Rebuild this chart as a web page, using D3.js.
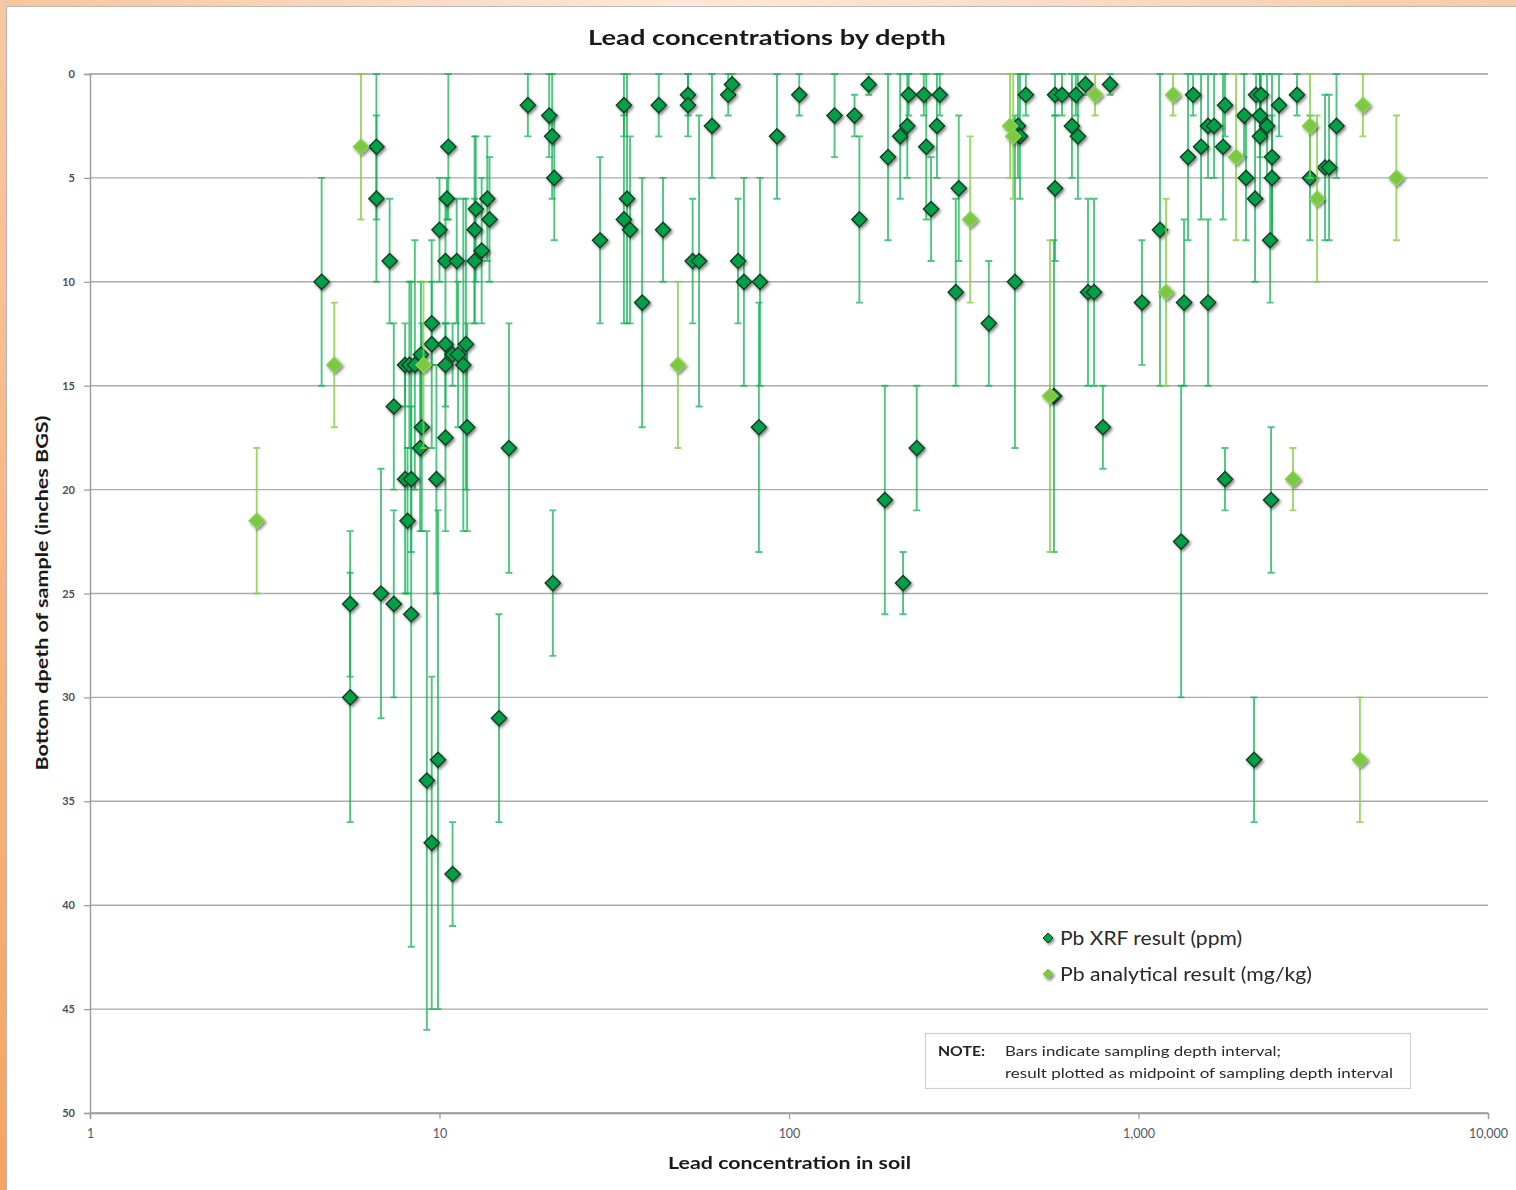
<!DOCTYPE html>
<html>
<head>
<meta charset="utf-8">
<title>Lead concentrations by depth</title>
<script src="https://cdn.jsdelivr.net/npm/d3@7"></script>
<style>
  html, body { margin: 0; padding: 0; background: #fff; }
  svg { display: block; }
  text { font-family: Lato, "Open Sans", "Noto Sans", sans-serif; }
</style>
</head>
<body>
<svg id="chart" width="1516" height="1190"></svg>
<script>
// Each sample: [lead concentration, top of sampling interval (in), bottom of sampling interval (in)]
// The marker is placed at the midpoint of the sampling depth interval.
const xrfSamples = [
  [4.6, 5, 15], [5.55, 22, 29], [5.55, 24, 36], [6.6, 0, 7], [6.6, 2, 10],
  [6.8, 19, 31], [7.2, 6, 12], [7.4, 12, 20], [7.4, 21, 30], [7.97, 12, 16],
  [8.2, 10, 18], [8.5, 8, 20], [8.85, 10, 17], [7.97, 14, 25], [8.3, 16, 23],
  [8.1, 18, 25], [8.3, 10, 42], [8.9, 12, 22], [8.8, 14, 22], [9.2, 22, 46],
  [9.5, 10, 14], [9.5, 8, 18], [9.5, 29, 45], [9.8, 14, 25], [9.9, 21, 45],
  [10.0, 5, 10], [10.4, 6, 12], [10.5, 5, 7], [10.6, 0, 7], [10.4, 12, 14],
  [10.4, 12, 16], [10.4, 13, 22], [10.9, 12, 15], [10.9, 36, 41], [11.2, 6, 12],
  [11.3, 10, 17], [11.7, 6, 22], [11.9, 6, 20], [12.0, 12, 22], [12.6, 3, 12],
  [12.7, 3, 10], [12.6, 6, 12], [13.2, 5, 12], [13.7, 3, 9], [13.9, 4, 10],
  [14.8, 26, 36], [15.8, 12, 24],
  [17.9, 0, 3], [20.6, 0, 4], [21.0, 0, 6], [21.3, 2, 8], [21.1, 21, 28],
  [28.8, 4, 12], [33.7, 0, 3], [33.7, 2, 12], [34.4, 0, 12], [35.1, 3, 12],
  [38.0, 5, 17], [42.4, 0, 3], [43.6, 5, 10], [51.4, 0, 2], [51.4, 0, 3],
  [53.0, 6, 12], [55.3, 2, 16], [60.2, 0, 5], [67, 0, 2], [68.7, 0, 1],
  [71.5, 6, 12], [74.3, 5, 15], [82.6, 5, 15], [82, 11, 23], [92.4, 0, 6],
  [107, 0, 2],
  [135, 0, 4], [154, 1, 3], [159, 3, 11], [169, 0, 1], [188, 15, 26],
  [192, 0, 8], [208, 0, 6], [212, 23, 26], [218, 0, 5], [220, 0, 2],
  [232, 15, 21], [243, 0, 2], [247, 0, 7], [255, 4, 9], [265, 0, 5],
  [270, 0, 2], [300, 6, 15], [306, 2, 9], [373, 9, 15], [443, 2, 18],
  [452, 0, 5], [458, 0, 6], [476, 0, 2], [573, 8, 23], [577, 2, 9],
  [577, 0, 2], [604, 0, 2], [645, 0, 5], [662, 0, 2], [671, 0, 6],
  [705, 0, 1], [717, 6, 15], [746, 6, 15], [791, 15, 19], [829, 0, 1],
  [1023, 8, 14], [1152, 0, 15], [1324, 15, 30], [1350, 7, 15], [1386, 0, 8],
  [1433, 0, 2], [1510, 0, 7], [1581, 0, 5], [1581, 7, 15], [1645, 0, 5],
  [1745, 0, 7], [1768, 0, 3], [1768, 18, 21], [2005, 0, 4], [2030, 2, 8],
  [2155, 2, 10], [2141, 30, 36], [2169, 0, 2], [2241, 0, 2], [2226, 0, 4],
  [2226, 0, 6], [2332, 0, 5], [2410, 0, 8], [2410, 2, 8], [2380, 5, 11],
  [2395, 17, 24], [2524, 0, 3], [2841, 0, 2], [3095, 2, 8], [3417, 1, 8],
  [3510, 1, 8], [3686, 0, 5]
];

const analyticalSamples = [
  [3.0, 18, 25], [5.0, 11, 17], [5.96, 0, 7], [9.0, 10, 18], [48.1, 10, 18],
  [330, 3, 11], [429, 0, 5], [438, 0, 6], [558, 8, 23], [751, 0, 2],
  [1199, 6, 15], [1256, 0, 2], [1902, 0, 8], [2767, 18, 21], [3095, 0, 5],
  [3243, 2, 10], [4300, 30, 36], [4386, 0, 3], [5470, 2, 8]
];

const seriesNames = ["Pb XRF result (ppm)", "Pb analytical result (mg/kg)"];
const xTickValues = [1, 10, 100, 1000, 10000];
const xTickLabels = ["1", "10", "100", "1,000", "10,000"];
const yTickValues = [0, 5, 10, 15, 20, 25, 30, 35, 40, 45, 50];
const chartTitle = "Lead concentrations by depth";
const xAxisTitle = "Lead concentration in soil";
const yAxisTitle = "Bottom dpeth of sample (inches BGS)";
const noteLabel = "NOTE:";
const noteLines = ["Bars indicate sampling depth interval;",
                   "result plotted as midpoint of sampling depth interval"];

const W = 1516, H = 1190;
const plot = { left: 90, right: 1488, top: 74, bottom: 1113 };

const svg = d3.select("#chart");
const defs = svg.append("defs");

// Orange frame gradients
const gTop = defs.append("linearGradient").attr("id", "frameTop").attr("x1", 0).attr("x2", 1).attr("y1", 0).attr("y2", 0);
gTop.append("stop").attr("offset", "0%").attr("stop-color", "#f8c49a");
gTop.append("stop").attr("offset", "45%").attr("stop-color", "#fde9da");
gTop.append("stop").attr("offset", "100%").attr("stop-color", "#f9cba6");
const gLeft = defs.append("linearGradient").attr("id", "frameLeft").attr("x1", 0).attr("x2", 0).attr("y1", 0).attr("y2", 1);
gLeft.append("stop").attr("offset", "0%").attr("stop-color", "#f9c8a0");
gLeft.append("stop").attr("offset", "100%").attr("stop-color", "#f5a461");

// Soft drop shadow for the markers
const shadow = defs.append("filter").attr("id", "mshadow")
  .attr("x", "-50%").attr("y", "-50%").attr("width", "200%").attr("height", "200%");
shadow.append("feDropShadow").attr("dx", 1.6).attr("dy", 1.8)
  .attr("stdDeviation", 1.6).attr("flood-color", "#000").attr("flood-opacity", 0.5);

svg.append("rect").attr("width", W).attr("height", H).attr("fill", "#fff");
svg.append("rect").attr("x", 0).attr("y", 0).attr("width", W).attr("height", 6).attr("fill", "url(#frameTop)");
svg.append("rect").attr("x", 0).attr("y", 0).attr("width", 6.5).attr("height", H).attr("fill", "url(#frameLeft)");
svg.append("path").attr("d", `M6.5,${H} V6.5 H${W}`).attr("fill", "none")
  .attr("stroke", "#b8b8b8").attr("stroke-width", 1.2);

const x = d3.scaleLog().domain([1, 10000]).range([plot.left, plot.right]);
const y = d3.scaleLinear().domain([0, 50]).range([plot.top, plot.bottom]);

// Horizontal gridlines
svg.append("g").selectAll("line").data(yTickValues).join("line")
  .attr("x1", plot.left).attr("x2", plot.right)
  .attr("y1", d => y(d)).attr("y2", d => y(d))
  .attr("stroke", d => (d === 0 || d === 50) ? "#9a9a9a" : "#ababab")
  .attr("stroke-width", 1.4);

// Y axis
const yAxis = d3.axisLeft(y).tickValues(yTickValues).tickSize(6).tickPadding(9);
const gy = svg.append("g").attr("transform", `translate(${plot.left},0)`).call(yAxis);
gy.select(".domain").attr("stroke", "#9a9a9a").attr("stroke-width", 1.4);
gy.selectAll(".tick line").attr("stroke", "#9a9a9a").attr("stroke-width", 1.2);
gy.selectAll(".tick text").attr("fill", "#4a505a").attr("font-size", 11)
  .attr("font-weight", 700).style("font-family", "Lato, sans-serif");

// X axis
const xAxis = d3.axisBottom(x).tickValues(xTickValues)
  .tickFormat((d, i) => xTickLabels[i]).tickSize(6).tickPadding(10);
const gx = svg.append("g").attr("transform", `translate(0,${plot.bottom})`).call(xAxis);
gx.select(".domain").attr("stroke", "#9a9a9a").attr("stroke-width", 1.4);
gx.selectAll(".tick line").attr("stroke", "#9a9a9a").attr("stroke-width", 1.2);
gx.selectAll(".tick text").attr("fill", "#505860").attr("font-size", 12.5)
  .style("font-family", "Lato, sans-serif");

// Depth-interval bars with end caps
const capHalf = 3.5;
function drawBars(data, color, opacity, width) {
  const g = svg.append("g").attr("stroke", color).attr("stroke-opacity", opacity)
    .attr("stroke-width", width).attr("fill", "none");
  g.selectAll("path").data(data).join("path")
    .attr("d", d => {
      const cx = x(d[0]), y1 = y(d[1]), y2 = y(d[2]);
      return `M${cx},${y1}V${y2}M${cx - capHalf},${y1}H${cx + capHalf}M${cx - capHalf},${y2}H${cx + capHalf}`;
    });
}

const diamond = r => `M0,${-r}L${r},0L0,${r}L${-r},0Z`;
function drawMarkers(data, fill, stroke, r) {
  svg.append("g").attr("filter", "url(#mshadow)")
    .selectAll("path").data(data).join("path")
    .attr("transform", d => `translate(${x(d[0])},${y((d[1] + d[2]) / 2)})`)
    .attr("d", diamond(r))
    .attr("fill", fill).attr("stroke", stroke).attr("stroke-width", 1.4);
}

const xrfFill = "#02a049", xrfStroke = "#153a20", xrfBar = "#08b04f";
const anFill = "#7cc842", anStroke = "#8ad152", anBar = "#86cc45";

drawBars(xrfSamples, xrfBar, 0.72, 1.9);
drawMarkers(xrfSamples, xrfFill, xrfStroke, 7.6);
drawBars(analyticalSamples, anBar, 0.8, 1.9);
drawMarkers(analyticalSamples, anFill, anStroke, 7.6);

// Text helper that fits a string into a given width
function label(txt, px, py, opts) {
  const t = svg.append("text").attr("x", px).attr("y", py).text(txt)
    .attr("font-size", opts.size).attr("font-weight", opts.weight || 400)
    .attr("fill", opts.fill || "#222").attr("text-anchor", opts.anchor || "start");
  if (opts.width) t.attr("textLength", opts.width).attr("lengthAdjust", "spacingAndGlyphs");
  if (opts.rotate) t.attr("transform", `rotate(-90,${px},${py})`);
  return t;
}

label(chartTitle, 767, 45, { size: 21, weight: 700, anchor: "middle", width: 358, fill: "#1a1a1a" });
label(xAxisTitle, 789.5, 1169, { size: 17.5, weight: 700, anchor: "middle", width: 243, fill: "#1a1a1a" });
label(yAxisTitle, 48, 593, { size: 17.5, weight: 700, anchor: "middle", width: 355, fill: "#1a1a1a", rotate: true });

// Legend
const legendY = [938, 974];
const legendFill = [xrfFill, anFill], legendStroke = [xrfStroke, anStroke];
const legendWidth = [182, 252];
seriesNames.forEach((name, i) => {
  svg.append("path").attr("transform", `translate(1048,${legendY[i]})`)
    .attr("d", diamond(5)).attr("fill", legendFill[i]).attr("stroke", legendStroke[i])
    .attr("stroke-width", 1).attr("filter", "url(#mshadow)");
  label(name, 1060, legendY[i] + 6.5, { size: 18.5, width: legendWidth[i], fill: "#2a2a2a" });
});

// Note box
svg.append("rect").attr("x", 925.5).attr("y", 1033.5).attr("width", 485).attr("height", 55)
  .attr("fill", "#fff").attr("stroke", "#d0d0d0").attr("stroke-width", 1.2);
label(noteLabel, 938, 1056, { size: 13.5, weight: 700, width: 47, fill: "#222" });
label(noteLines[0], 1005, 1056, { size: 13.5, width: 276, fill: "#2a2a2a" });
label(noteLines[1], 1005, 1078, { size: 13.5, width: 388, fill: "#2a2a2a" });
</script>
</body>
</html>
